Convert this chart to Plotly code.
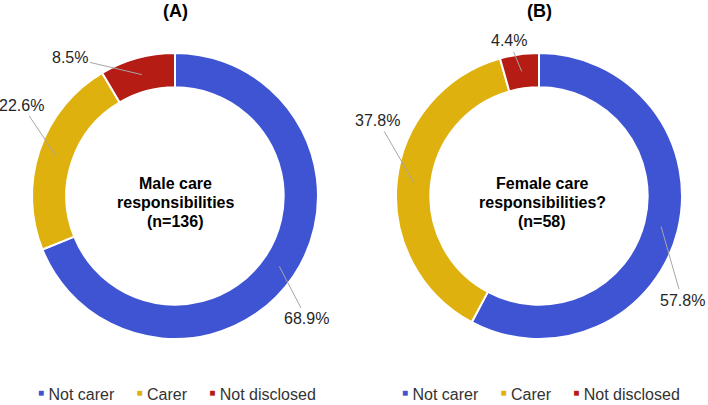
import math
import plotly.graph_objects as go

# ---- data ----
categories = ["Not carer", "Carer", "Not disclosed"]
male_pct = [68.9, 22.6, 8.5]
female_pct = [57.8, 37.8, 4.4]
panel_titles = ["(A)", "(B)"]
center_lines = [["Male care", "responsibilities", "(n=136)"],
                ["Female care", "responsibilities?", "(n=58)"]]

# ---- style ----
colors = ["#3E54D3", "#DFB10F", "#B51C14"]
W, H = 708, 405
FONT = "Liberation Sans, Arial, sans-serif"
centers = [(175, 196), (539, 196)]
R = 143
HOLE = 0.76
label_shift_deg = [[9, 12, -22], [22, 19, -3]]
label_radius = [[180, 178, 174], [177, 178, 158]]
legend_centers = [177, 541]
center_text_x = [175, 542]
center_line_y = [183, 202, 221]

fig = go.Figure()
annotations = []
NB = "&nbsp;"

for i, vals in enumerate([male_pct, female_pct]):
    cx, cy = centers[i]
    fig.add_trace(go.Pie(
        labels=categories, values=vals, hole=HOLE, sort=False,
        direction="clockwise", rotation=0,
        marker=dict(colors=colors, line=dict(color="white", width=2)),
        textinfo="none", hoverinfo="label+percent", showlegend=False,
        domain=dict(x=[(cx - R) / W, (cx + R) / W],
                    y=[1 - (cy + R) / H, 1 - (cy - R) / H]),
    ))
    # title
    annotations.append(dict(text="<b>%s</b>" % panel_titles[i], x=cx / W, y=1 - 11 / H,
                            xref="paper", yref="paper", showarrow=False,
                            xanchor="center", yanchor="middle",
                            font=dict(family=FONT, size=18, color="#000000")))
    # center text, one line per annotation
    for line, ly in zip(center_lines[i], center_line_y):
        annotations.append(dict(text="<b>%s</b>" % line, x=center_text_x[i] / W, y=1 - ly / H,
                                xref="paper", yref="paper", showarrow=False,
                                xanchor="center", yanchor="middle",
                                font=dict(family=FONT, size=16, color="#000000")))
    # percent labels with leader lines
    total = sum(vals)
    cum = 0.0
    rm = R * (1 + HOLE) / 2
    for j, v in enumerate(vals):
        mid = 360.0 * (cum + v / 2) / total
        cum += v
        tx = cx + rm * math.sin(math.radians(mid))
        ty = cy - rm * math.cos(math.radians(mid))
        la = mid + label_shift_deg[i][j]
        lr = label_radius[i][j]
        lx = cx + lr * math.sin(math.radians(la))
        ly = cy - lr * math.cos(math.radians(la))
        annotations.append(dict(
            text="%.1f%%" % v, x=tx / W, y=1 - ty / H, xref="paper", yref="paper",
            showarrow=True, arrowhead=0, arrowwidth=1, arrowcolor="#A6A6A6",
            ax=lx - tx, ay=ly - ty, standoff=0, startstandoff=1,
            font=dict(family=FONT, size=16, color="#262626")))
    # legend (drawn as text)
    items = []
    for c, name in zip(colors, categories):
        items.append('<span style="color:%s;font-size:10px;baseline-shift:4px">■</span> %s'
                     % (c, name))
    annotations.append(dict(
        text=(NB * 5).join(items), x=legend_centers[i] / W, y=1 - 394 / H,
        xref="paper", yref="paper", showarrow=False, xanchor="center", yanchor="middle",
        font=dict(family=FONT, size=16, color="#333333")))

fig.update_layout(
    width=W, height=H, margin=dict(l=0, r=0, t=0, b=0),
    paper_bgcolor="white", plot_bgcolor="white",
    annotations=annotations, showlegend=False,
)
fig.write_html("out.html", config={"displayModeBar": False},
               post_script="document.body.style.margin='0';document.body.style.overflow='hidden';")
